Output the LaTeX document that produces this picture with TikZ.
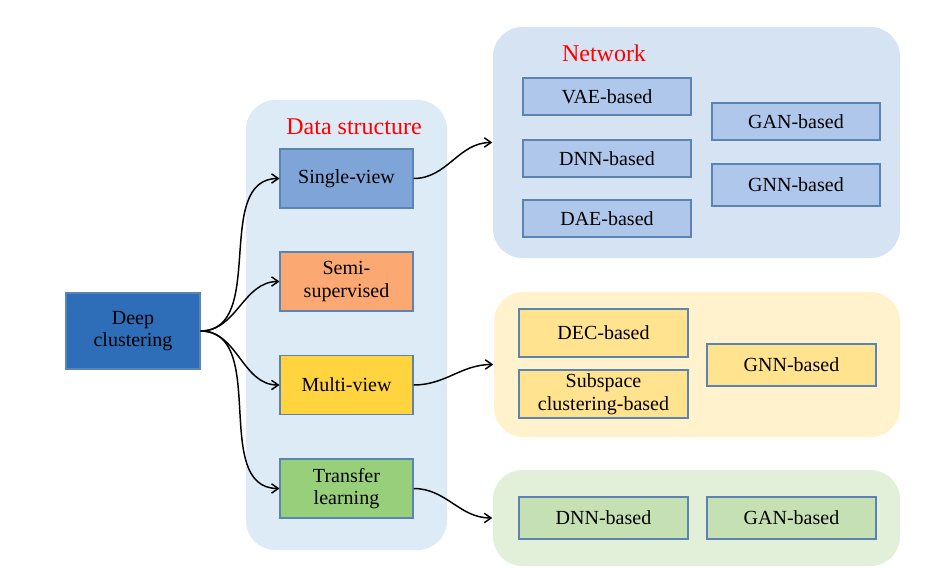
\documentclass[tikz,border=0pt]{standalone}
\usepackage{fontspec}
\setmainfont{Liberation Serif}
\usetikzlibrary{arrows,arrows.meta}

\definecolor{dspanel}{HTML}{DDEBF7}
\definecolor{netpanel}{HTML}{D6E3F3}
\definecolor{decpanel}{HTML}{FFF2CC}
\definecolor{tlpanel}{HTML}{E2F0D9}
\definecolor{boxline}{HTML}{5B84B3}
\definecolor{deepfill}{HTML}{2E6DB8}
\definecolor{singlefill}{HTML}{7FA5D8}
\definecolor{semifill}{HTML}{FBA872}
\definecolor{multifill}{HTML}{FFD43E}
\definecolor{transferfill}{HTML}{97CF7B}
\definecolor{netfill}{HTML}{AEC7EA}
\definecolor{decfill}{HTML}{FFE38E}
\definecolor{tlfill}{HTML}{C5E1B4}
\definecolor{titlered}{HTML}{FF0000}

\tikzset{
  panel/.style={rounded corners=22pt, inner sep=0pt},
  box/.style={draw=boxline, line width=0.8pt, align=center, inner sep=0pt,
    font=\fontsize{15}{17}\selectfont},
  dsbox/.style={box, minimum width=99.75pt, minimum height=44.25pt},
  netbox/.style={box, fill=netfill, minimum width=126pt, minimum height=27.75pt},
  decbox/.style={box, fill=decfill, minimum width=126.75pt, minimum height=36pt},
  tlbox/.style={box, fill=tlfill, minimum width=126.75pt, minimum height=31.5pt},
  paneltitle/.style={text=titlered, font=\fontsize{18}{18}\selectfont}
}

\begin{document}
\begin{tikzpicture}[x=0.75pt, y=-0.75pt, >={Straight Barb[length=5pt,width=7pt]}, line width=1.1pt]
  \useasboundingbox (0,0) rectangle (932,581);

  % background panels
  \node[panel, fill=dspanel, minimum width=150.75pt, minimum height=337.5pt] (ds) at (346.5,325) {};
  \node[panel, fill=netpanel, minimum width=305.25pt, minimum height=173.25pt] (net) at (696.5,142.5) {};
  \node[panel, fill=decpanel, minimum width=304.5pt, minimum height=108.75pt] (dec) at (697,364.5) {};
  \node[panel, fill=tlpanel, minimum width=305.25pt, minimum height=72pt] (tl) at (696.5,518) {};

  \node[paneltitle] (dstitle) at (354,127) {Data structure};
  \node[paneltitle] (nettitle) at (604,53) {Network};

  % root and data structure
  \node[box, fill=deepfill, minimum width=100.5pt, minimum height=57pt] (deep) at (133,331) {Deep\\clustering};
  \node[dsbox, fill=singlefill] (single) at (346.5,178.5) {Single-view};
  \node[dsbox, fill=semifill] (semi) at (346.5,281.5) {Semi-\\supervised};
  \node[dsbox, fill=multifill] (multi) at (346.5,385) {Multi-view};
  \node[dsbox, fill=transferfill] (transfer) at (346.5,488.5) {Transfer\\learning};

  % network
  \node[netbox] (vae) at (607,96.5) {VAE-based};
  \node[netbox] (dnn) at (607,158.5) {DNN-based};
  \node[netbox] (dae) at (607,218.5) {DAE-based};
  \node[netbox] (gan) at (796,121.5) {GAN-based};
  \node[netbox, minimum height=31.5pt] (gnn) at (796,185) {GNN-based};

  % multi-view methods
  \node[decbox] (decb) at (603.5,333) {DEC-based};
  \node[decbox] (subspace) at (603.5,394) {Subspace\\clustering-based};
  \node[decbox, minimum height=31.5pt] (gnnmv) at (791.5,365) {GNN-based};

  % transfer learning methods
  \node[tlbox] (dnntl) at (603.5,518) {DNN-based};
  \node[tlbox] (gantl) at (791.5,518) {GAN-based};

  \path[->]
  (deep.east) edge[out=0, in=180] (single.west)
  (deep.east) edge[out=0, in=180] (semi.west)
  (deep.east) edge[out=0, in=180] (multi.west)
  (deep.east) edge[out=0, in=180] (transfer.west)
  (single.east) edge[out=0, in=180] (net.west)
  (multi.east) edge[out=0, in=180] (dec.west)
  (transfer.east) edge[out=0, in=180] (tl.west)
;
\end{tikzpicture}
\end{document}
